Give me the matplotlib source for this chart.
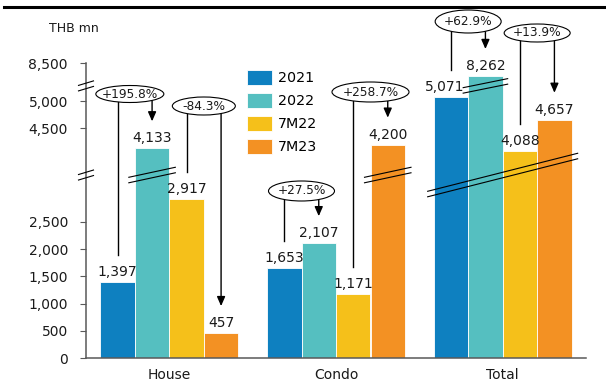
import numpy as np
import matplotlib
matplotlib.use("Agg")
import matplotlib.pyplot as plt
from matplotlib.patches import Ellipse, FancyArrowPatch
from matplotlib.lines import Line2D
from matplotlib.transforms import IdentityTransform

categories = ["House", "Condo", "Total"]
series = ["2021", "2022", "7M22", "7M23"]
values_2021 = [1397, 1653, 5071]
values_2022 = [4133, 2107, 8262]
values_7m22 = [2917, 1171, 4088]
values_7m23 = [457, 4200, 4657]
yticks = [0, 500, 1000, 1500, 2000, 2500, 4500, 5000, 8500]

# (category, from series, to series, label)
changes = [
    (0, 0, 1, "+195.8%"),
    (0, 2, 3, "-84.3%"),
    (1, 0, 1, "+27.5%"),
    (1, 2, 3, "+258.7%"),
    (2, 0, 1, "+62.9%"),
    (2, 2, 3, "+13.9%"),
]

colors = ["#0e80c0", "#55bfc0", "#f5c01a", "#f39123"]

# bubble layout: x shift (px), centre y (px from top), width, height
bubbles = [(-5, 94, 68, 17), (0, 106, 63, 18), (0, 191, 66, 20),
           (0, 92, 77, 20), (0, 21.5, 66, 23), (0, 33, 66, 18)]

# broken axis: piecewise linear value -> pixel height
V = [0, 3300, 3650, 5200, 8050, 9800]
T = [0, 179.85, 183.4, 267.85, 270.5, 365.9]
LOW_BREAK = 3610
HIGH_BREAK = 8080


def fwd(v):
    return np.interp(v, V, T)


def inv(t):
    return np.interp(t, T, V)


W, H = 606, 383
fig = plt.figure(figsize=(W / 100, H / 100), dpi=100)
ax = fig.add_axes([86 / W, 25 / H, 500 / W, 358 / H])
ax.set_yscale("function", functions=(fwd, inv))
ax.set_xlim(-0.5, 2.5)
ax.set_ylim(0, 9656)

x = np.arange(len(categories))
bw = 0.207
data = [values_2021, values_2022, values_7m22, values_7m23]
bars = []
for i, vals in enumerate(data):
    b = ax.bar(x + (i - 1.5) * bw, vals, bw, color=colors[i], edgecolor="white",
               linewidth=0.6, label=series[i], zorder=2)
    bars.append(b)
    for xi, v in zip(x + (i - 1.5) * bw, vals):
        # the 5,071 label sits a little left of its bar
        dx = -6 if v == 5071 else 0
        ax.annotate(f"{v:,}", (xi, v), xytext=(dx, 3), textcoords="offset pixels",
                    ha="center", va="bottom", fontsize=10, color="#1a1a1a", zorder=6)

for s in ["top", "right"]:
    ax.spines[s].set_visible(False)
ax.spines["left"].set_bounds(0, 8500)
for s in ["left", "bottom"]:
    ax.spines[s].set_color("#595959")
    ax.spines[s].set_linewidth(1.1)

ax.set_yticks(yticks)
ax.set_yticklabels([f"{t:,}" for t in yticks])
ax.yaxis.set_minor_locator(matplotlib.ticker.NullLocator())
ax.tick_params(axis="y", length=4, width=0.8, color="#595959", pad=9,
               labelsize=10, labelcolor="#1a1a1a")
ax.set_xticks(x)
ax.set_xticklabels(categories)
ax.tick_params(axis="x", length=0, pad=7, labelsize=10, labelcolor="#1a1a1a")

leg = ax.legend(loc="upper left", bbox_to_anchor=(247, H - 70),
                bbox_transform=IdentityTransform(), frameon=False, fontsize=10.3,
                handlelength=1.75, handleheight=1.2, handletextpad=0.4,
                labelspacing=0.55, borderpad=0, borderaxespad=0)

ident = IdentityTransform()


def px(xd, v):
    return ax.transData.transform((xd, v))


def draw_break(xl, xr, v, rise, gap=5.5):
    cy = px(0, v)[1]
    for off in (gap / 2, -gap / 2):
        ax.add_line(Line2D([xl, xr], [cy - rise / 2 + off, cy + rise / 2 + off],
                           transform=ident, color="black", lw=0.8,
                           clip_on=False, zorder=3))


half = bw / 2
# axis breaks
ax_x = px(-0.5, 0)[0]
draw_break(ax_x - 7.5, ax_x + 7.5, LOW_BREAK, 4.5)
draw_break(ax_x - 7.5, ax_x + 7.5, HIGH_BREAK, 4.5)
# bar breaks
xl, xr = px(0 - 0.5 * bw - half, 0)[0], px(0 - 0.5 * bw + half, 0)[0]
draw_break(xl - 6, xr + 6, LOW_BREAK, 10)
xl, xr = px(1 + 1.5 * bw - half, 0)[0], px(1 + 1.5 * bw + half, 0)[0]
draw_break(xl - 6, xr + 6, LOW_BREAK, 10)
xl, xr = px(2 - 2 * bw, 0)[0], px(2 + 2 * bw, 0)[0]
draw_break(xl - 6, xr + 6, LOW_BREAK, 38)
xl, xr = px(2 - 0.5 * bw - half, 0)[0], px(2 - 0.5 * bw + half, 0)[0]
draw_break(xl - 5, xr + 5, HIGH_BREAK, 9)

# change bubbles
for (cat, a, b, label), (dx, cy_top, ew, eh) in zip(changes, bubbles):
    xa = cat + (a - 1.5) * bw
    xb = cat + (b - 1.5) * bw
    pa = px(xa, data[a][cat])
    pb = px(xb, data[b][cat])
    ey = H - cy_top
    ex = (pa[0] + pb[0]) / 2 + dx
    ax.add_line(Line2D([pa[0], pa[0]], [ey, pa[1] + 27], transform=ident,
                       color="black", lw=1.0, clip_on=False, zorder=4))
    ax.add_patch(FancyArrowPatch((pb[0], ey), (pb[0], pb[1] + 27),
                                 arrowstyle="-|>,head_length=0.8,head_width=0.35",
                                 mutation_scale=7, transform=ident, color="black",
                                 lw=1.0, shrinkA=0, shrinkB=0, clip_on=False, zorder=4))
    ax.add_patch(Ellipse((ex, ey), ew, eh, transform=ident, facecolor="white",
                         edgecolor="black", lw=0.8, clip_on=False, zorder=5))
    ax.text(ex, ey, label, transform=ident, ha="center", va="center",
            fontsize=8.7, color="#1a1a1a", zorder=6)

fig.text(49 / W, 1 - 29 / H, "THB mn", ha="left", va="center", fontsize=9,
         color="#1a1a1a")
fig.add_artist(Line2D([0.006, 1], [1 - 7 / H, 1 - 7 / H], transform=fig.transFigure,
                      color="black", lw=2.2))

fig.savefig("out.png", dpi=100)
